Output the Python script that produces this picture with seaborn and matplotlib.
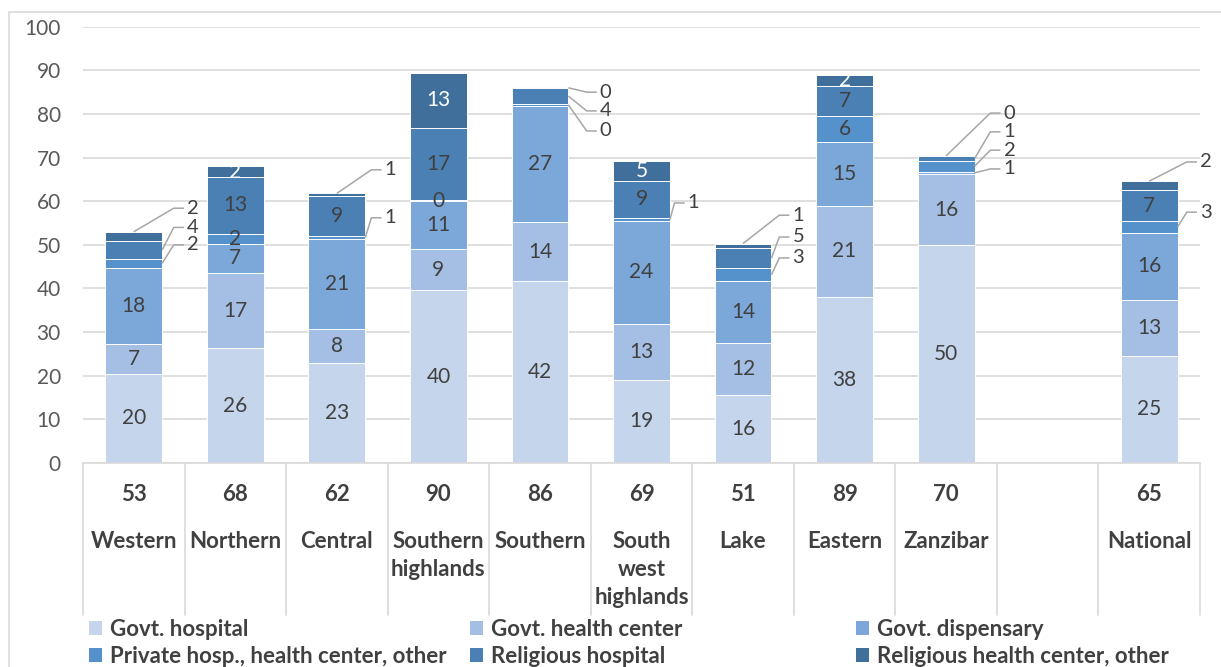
import matplotlib
matplotlib.use("Agg")
import matplotlib.pyplot as plt
from matplotlib.patches import Patch, Rectangle
import seaborn as sns
import pandas as pd
import numpy as np

# ---------------- data ----------------
regions = ["Western", "Northern", "Central", "Southern\nhighlands", "Southern",
           "South\nwest\nhighlands", "Lake", "Eastern", "Zanzibar", "National"]
slot_order = regions[:9] + [" "] + ["National"]
totals = ["53", "68", "62", "90", "86", "69", "51", "89", "70", "65"]

series = ["Govt. hospital", "Govt. health center", "Govt. dispensary",
          "Private hosp., health center, other", "Religious hospital",
          "Religious health center, other"]

govt_hospital = [20.4, 26.3, 22.9, 39.6, 41.6, 19.1, 15.6, 38.1, 50.0, 24.6]
govt_health_center = [6.8, 17.2, 7.8, 9.4, 13.6, 12.8, 11.9, 20.8, 16.2, 12.7]
govt_dispensary = [17.6, 6.8, 20.6, 11.0, 26.7, 23.6, 14.2, 14.6, 0.6, 15.5]
private_other = [2.0, 2.3, 0.7, 0.2, 0.4, 0.6, 2.9, 6.1, 2.4, 2.6]
religious_hospital = [4.1, 13.0, 9.2, 16.6, 3.6, 8.6, 4.7, 6.9, 1.1, 7.1]
religious_hc_other = [2.1, 2.4, 0.6, 12.6, 0.2, 4.6, 1.0, 2.4, 0.1, 2.1]

values = [govt_hospital, govt_health_center, govt_dispensary,
          private_other, religious_hospital, religious_hc_other]

colors = ["#C5D5EB", "#A4BFE3", "#7BA8D9", "#5592CB", "#4B80B4", "#416F9C"]

# callouts: (region index, series index, label x offset, label y, anchor)
callouts = [
    (0, 5, 0.524, 58.4, "top"), (0, 4, 0.524, 54.0, "right"), (0, 3, 0.524, 50.0, "right"),
    (2, 5, 0.47, 67.2, "top"), (2, 3, 0.47, 56.2, "right"),
    (4, 5, 0.59, 85.0, "right"), (4, 4, 0.59, 80.7, "right"), (4, 3, 0.59, 76.1, "right"),
    (5, 3, 0.455, 59.6, "right"),
    (6, 5, 0.487, 56.8, "top"), (6, 4, 0.487, 51.8, "right"), (6, 3, 0.487, 47.0, "right"),
    (8, 5, 0.565, 80.2, "top"), (8, 4, 0.565, 75.9, "right"), (8, 3, 0.565, 71.7, "right"),
    (8, 2, 0.565, 67.4, "right"),
    (9, 5, 0.50, 69.0, "top"), (9, 3, 0.50, 57.5, "right"),
]

# ---------------- style ----------------
sns.set_style("white")
plt.rcParams["font.family"] = ["Lato", "DejaVu Sans"]
TXT = "#404040"
GRID = "#D9D9D9"

fig = plt.figure(figsize=(12.21, 6.67), dpi=100)
ax = fig.add_axes([83 / 1221, 1 - 463 / 667, (1200 - 83) / 1221, (463 - 26.7) / 667])

vals = np.array(values)           # shape (6, 10)
cum = np.cumsum(vals, axis=0)

df = pd.DataFrame({"region": regions})
for k in range(6):
    df[f"cum{k}"] = cum[k]

BW = 0.56
for k in range(5, -1, -1):
    sns.barplot(data=df, x="region", y=f"cum{k}", order=slot_order, color=colors[k],
                saturation=1, width=BW, edgecolor="white", linewidth=0.7, ax=ax, zorder=2)

ax.set_xlim(-0.5, 10.5)
ax.set_ylim(0, 100)
ax.set_yticks(range(0, 101, 10))
ax.yaxis.grid(True, color=GRID, linewidth=1.2, zorder=0)
ax.set_axisbelow(True)
ax.tick_params(axis="y", length=0, pad=16, labelsize=15, labelcolor="#595959")
ax.tick_params(axis="x", length=0, labelbottom=False)
ax.set_xlabel("")
ax.set_ylabel("")
for s in ["top", "right", "left"]:
    ax.spines[s].set_visible(False)
ax.spines["bottom"].set_color(GRID)
ax.spines["bottom"].set_linewidth(1.2)

pos = [slot_order.index(r) for r in regions]
callout_set = {(c[0], c[1]) for c in callouts}

# inside labels
for i in range(len(regions)):
    for k in range(6):
        if (i, k) in callout_set:
            continue
        v = vals[k, i]
        ymid = cum[k, i] - v / 2
        col = "white" if k == 5 else TXT
        ax.text(pos[i], ymid, f"{v:.0f}", ha="center", va="center",
                fontsize=15, color=col, zorder=5)

# callout labels with leader lines
for (i, k, dx, ly, anchor) in callouts:
    v = vals[k, i]
    x0 = pos[i]
    left = x0 + dx
    end = left - 0.03
    elbow = left - 0.13
    if anchor == "top":
        ax_pt = (x0, cum[k, i])
    else:
        ax_pt = (x0 + BW / 2, cum[k, i] - v / 2)
    ax.plot([ax_pt[0], elbow, end], [ax_pt[1], ly, ly], color="#A6A6A6",
            linewidth=1.1, zorder=4, clip_on=False, solid_capstyle="butt")
    ax.text(left, ly, f"{v:.0f}", ha="left", va="center", fontsize=14.5,
            color=TXT, zorder=5)

# table-like category axis
tr = ax.get_xaxis_transform()
for b in range(12):
    ax.plot([b - 0.5, b - 0.5], [0, -0.348], transform=tr, color=GRID,
            linewidth=1.2, clip_on=False)
for i, r in enumerate(regions):
    ax.text(pos[i], -0.073, totals[i], transform=tr, ha="center", va="center",
            fontsize=16, fontweight="bold", color=TXT)
    ax.text(pos[i], -0.155, r, transform=tr, ha="center", va="top",
            fontsize=16, fontweight="bold", color=TXT, linespacing=1.42)

# legend in three evenly spaced columns
handles = [Patch(facecolor=c, edgecolor="none") for c in colors]
col_x = [89 / 1221, 470 / 1221, 856 / 1221]
for j in range(3):
    idx = [j, j + 3]
    fig.legend([handles[t] for t in idx], [series[t] for t in idx],
               loc="upper left", bbox_to_anchor=(col_x[j], 1 - 619 / 667),
               frameon=False, borderpad=0, borderaxespad=0, handlelength=0.6,
               handleheight=0.6, handletextpad=0.35, labelspacing=0.28,
               prop={"size": 16, "weight": "bold"}, labelcolor=TXT)

# chart frame
fig.patches.append(Rectangle((9 / 1221, -0.1), 1.2, 1 - 12 / 667 + 0.1,
                             transform=fig.transFigure, fill=False,
                             edgecolor=GRID, linewidth=1.2))

fig.savefig("out.png", dpi=100)
